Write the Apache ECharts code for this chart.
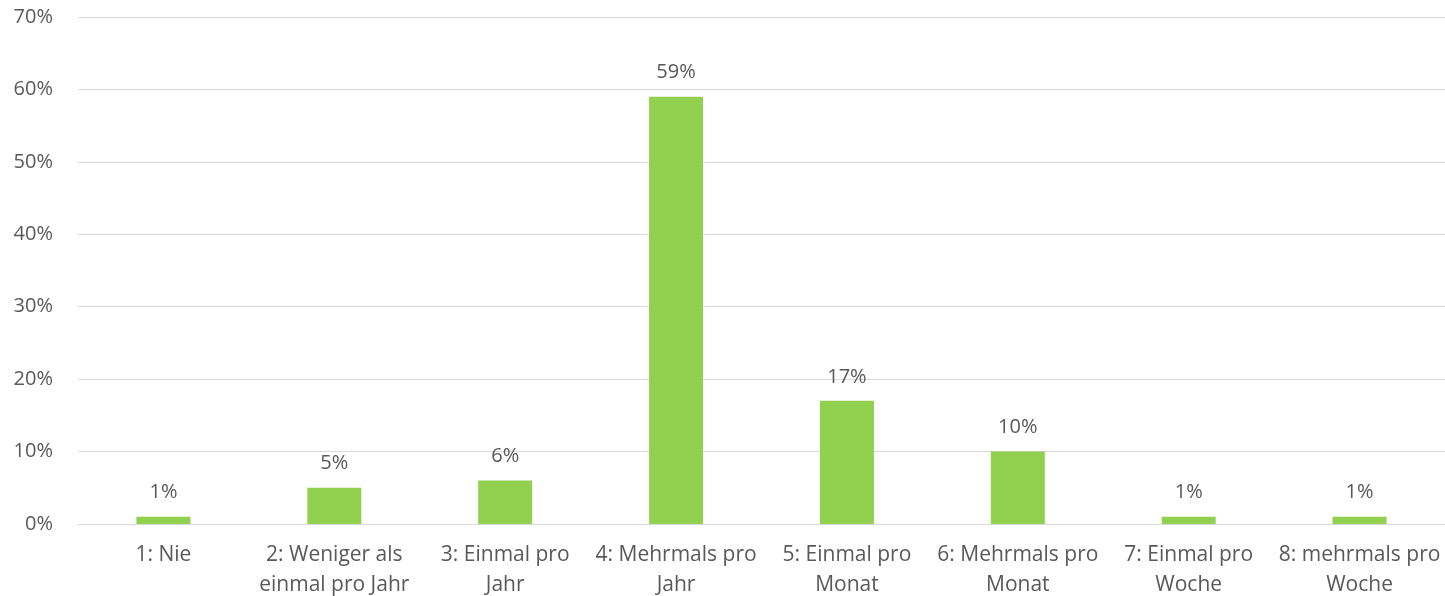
<!DOCTYPE html>
<html>
<head>
<meta charset="utf-8">
<script src="https://cdn.jsdelivr.net/npm/echarts@6/dist/echarts.min.js"></script>
<style>
  html, body { margin: 0; padding: 0; background: #fff; }
  #chart { width: 1445px; height: 596px; }
</style>
</head>
<body>
<div id="chart"></div>
<script>
// Frequency categories (line breaks as printed under the axis)
const categories = [
  '1: Nie',
  '2: Weniger als\neinmal pro Jahr',
  '3: Einmal pro\nJahr',
  '4: Mehrmals pro\nJahr',
  '5: Einmal pro\nMonat',
  '6: Mehrmals pro\nMonat',
  '7: Einmal pro\nWoche',
  '8: mehrmals pro\nWoche'
];
// Share of respondents, in percent
const shares = [1, 5, 6, 59, 17, 10, 1, 1];
// Value axis range and step, in percent
const axisMin = 0;
const axisMax = 70;
const axisStep = 10;

const textColor = '#595959';
const fontFamily = '"Open Sans", sans-serif';

const chart = echarts.init(document.getElementById('chart'), null, { renderer: 'canvas' });
chart.setOption({
  animation: false,
  grid: {
    left: 78, right: 0, top: 17, bottom: 72,
    containLabel: false,
    outerBoundsMode: 'none'
  },
  xAxis: {
    type: 'category',
    data: categories,
    axisLine: { show: true, lineStyle: { color: '#D9D9D9', width: 1 } },
    axisTick: { show: false },
    axisLabel: {
      color: textColor,
      fontFamily: fontFamily,
      fontSize: 21,
      lineHeight: 30,
      margin: 16,
      interval: 0
    }
  },
  yAxis: {
    type: 'value',
    min: axisMin,
    max: axisMax,
    interval: axisStep,
    axisLine: { show: false },
    axisTick: { show: false },
    splitLine: { lineStyle: { color: '#D9D9D9', width: 1 } },
    axisLabel: {
      color: textColor,
      fontFamily: fontFamily,
      fontSize: 20,
      margin: 25,
      formatter: v => v + '%'
    }
  },
  series: [{
    type: 'bar',
    data: shares,
    barWidth: 54,
    itemStyle: { color: '#92D050' },
    label: {
      show: true,
      position: 'top',
      distance: 14,
      color: textColor,
      fontFamily: fontFamily,
      fontSize: 20,
      formatter: p => p.value + '%'
    }
  }]
});
</script>
</body>
</html>
